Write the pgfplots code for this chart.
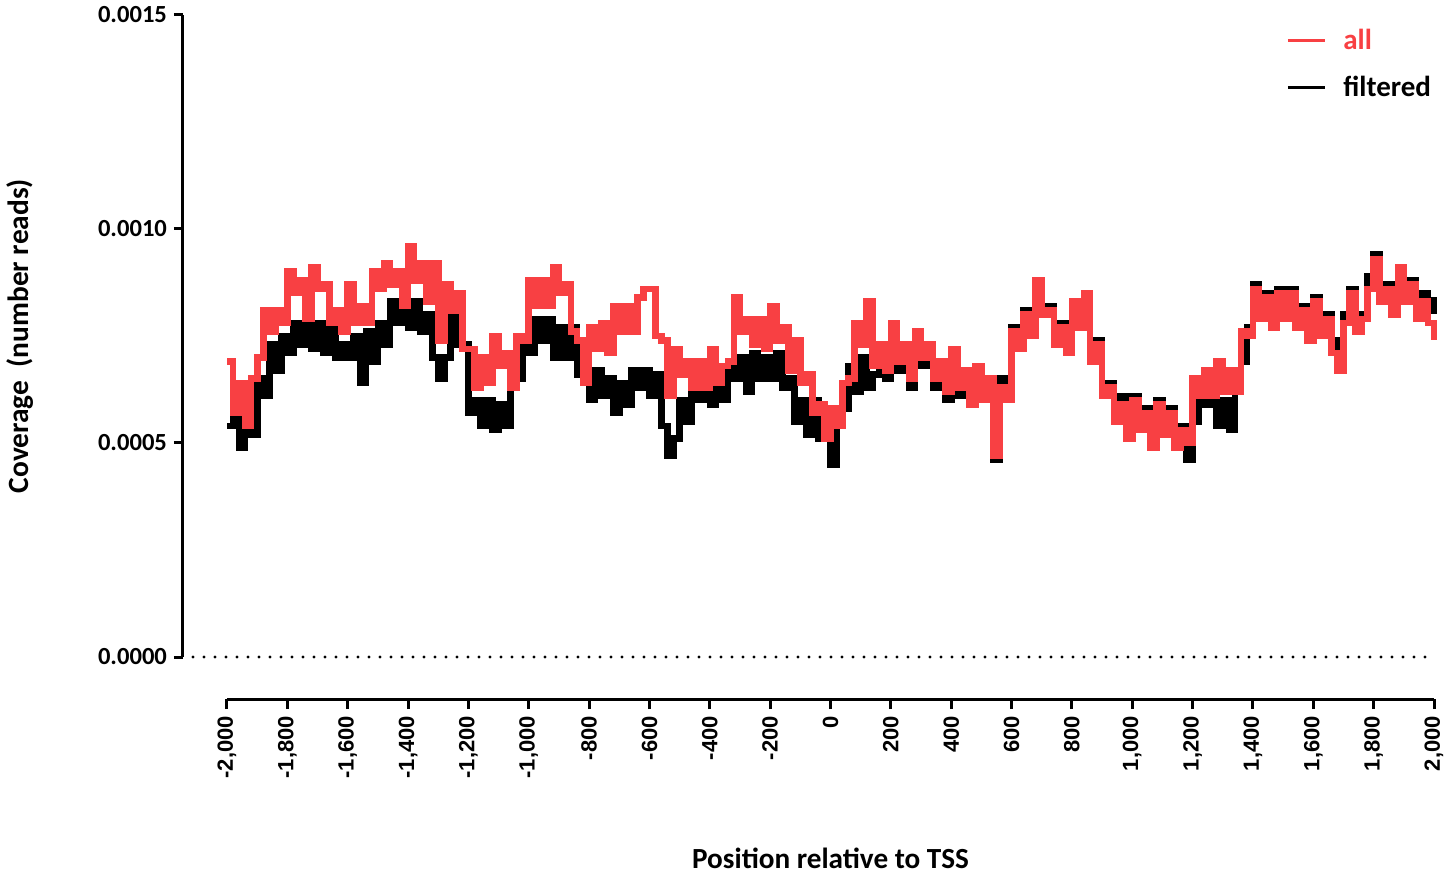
\documentclass[border=0pt]{standalone}
\usepackage{fontspec}
\setmainfont{Carlito}
\newfontfamily\arialfont{Liberation Sans}
\usepackage{pgfplots}
\usepackage{pgfplotstable}
\pgfplotsset{compat=1.18}
\definecolor{allred}{HTML}{F84043}
% x = position, r = all, b = filtered  (coverage in units of 1e-5)
\pgfplotstableread{
x r b
-2000 69 54
-1980 57 56
-1960 64 49
-1940 54 55
-1920 65 52
-1900 70 65
-1880 81 61
-1860 76 73
-1840 81 67
-1820 78 75
-1800 90 71
-1780 85 78
-1760 88 73
-1740 79 79
-1720 91 72
-1700 86 78
-1680 87 71
-1660 78 79
-1640 81 70
-1620 76 73
-1600 87 70
-1580 78 75
-1560 82 64
-1540 78 76
-1520 90 69
-1500 86 78
-1480 92 73
-1460 87 83
-1440 90 78
-1420 82 81
-1400 96 77
-1380 88 83
-1360 92 76
-1340 83 80
-1320 92 70
-1300 74 65
-1280 87 70
-1260 81 80
-1240 85 73
-1220 72 73
-1200 72 57
-1180 63 60
-1160 70 54
-1140 64 60
-1120 75 53
-1100 68 59
-1080 71 54
-1060 63 63
-1040 75 65
-1020 74 74
-1000 88 71
-980 82 79
-960 88 74
-940 82 79
-920 91 70
-900 85 77
-880 87 70
-860 76 77
-840 74 66
-820 64 65
-800 77 60
-780 72 67
-760 78 61
-740 71 65
-720 82 57
-700 76 64
-680 82 59
-660 76 67
-640 84 63
-620 86 67
-600 86 61
-580 75 66
-560 74 54
-540 61 47
-520 72 51
-500 66 60
-480 69 55
-460 63 65
-440 69 60
-420 63 65
-400 72 59
-380 64 66
-360 68 60
-340 69 69
-320 84 65
-300 76 70
-280 79 62
-260 73 71
-240 79 65
-220 72 70
-200 82 65
-180 74 71
-160 77 63
-140 67 65
-120 74 55
-100 64 60
-80 66 52
-60 57 60
-40 59 51
-20 51 53
0 58 45
20 54 56
40 64 58
60 65 68
80 78 62
100 73 70
120 83 63
140 68 66
160 73 71
180 67 65
200 78 76
220 69 67
240 73 71
260 65 63
280 76 74
300 70 68
320 73 71
340 65 63
360 69 67
380 62 60
400 72 70
420 63 61
440 67 65
460 59 62
480 68 66
500 60 63
520 65 64
540 47 46
560 63 65
580 60 63
600 76 77
620 72 74
640 80 81
660 75 78
680 88 88
700 80 82
720 81 82
740 73 76
760 77 78
780 71 74
800 83 83
820 77 80
840 85 85
860 69 72
880 73 74
900 61 64
920 63 64
940 55 58
960 59 61
980 51 54
1000 60 61
1020 53 56
1040 57 58
1060 49 52
1080 59 60
1100 52 55
1120 57 58
1140 49 52
1160 53 54
1180 50 46
1200 65 55
1220 61 64
1240 67 59
1260 61 65
1280 69 54
1300 62 60
1320 67 53
1340 62 67
1360 76 69
1380 75 77
1400 86 87
1420 79 82
1440 84 85
1460 77 80
1480 85 86
1500 79 82
1520 85 86
1540 77 80
1560 81 82
1580 74 77
1600 83 84
1620 75 78
1640 79 80
1660 71 74
1680 67 70
1700 78 80
1720 85 86
1740 76 79
1760 79 80
1780 86 89
1800 93 94
1820 83 86
1840 86 87
1860 80 83
1880 91 91
1900 83 86
1920 87 88
1940 79 82
1960 83 85
1980 78 81
2000 74 84
}\covtable
\begin{document}
\begin{tikzpicture}
\path[use as bounding box] (-91.5pt,-108pt) rectangle (634pt,328.5pt);
\begin{axis}[
  at={(0pt,0pt)}, anchor=south west,
  scale only axis, width=625.5pt, height=321pt,
  xmin=-2146, xmax=2000, ymin=0, ymax=150,
  axis y line*=left, axis x line=none,
  ytick={0,50,100,150},
  yticklabels={0.0000,0.0005,0.0010,0.0015},
  tick align=outside, major tick length=4.5pt,
  axis line style={line width=1.5pt},
  every tick/.style={line width=1.5pt, black},
  yticklabel style={font=\fontsize{12.3}{14}\selectfont\bfseries},
  ylabel={Coverage~ (number reads)},
  ylabel style={at={(axis description cs:-0.1303,0.5)}, anchor=center,
    font=\fontsize{14.7}{17}\selectfont\bfseries},
  clip=false,
  legend style={draw=none, fill=none, inner sep=0pt,
    nodes={inner sep=0pt}, column sep=8.5pt, row sep=12pt,
    at={(axis description cs:0.8817,0.979)}, anchor=north west,
    font=\fontsize{14.5}{17}\selectfont\bfseries},
  legend cell align=left,
  legend image code/.code={\draw[#1] (0pt,0pt) -- (18.5pt,0pt);},
]
\addlegendimage{allred, line width=1.5pt}
\addlegendentry{\textcolor{allred}{all}}
\addlegendimage{black, line width=1.5pt}
\addlegendentry{filtered}
\addplot[black, line width=1.6pt, line cap=round, dash pattern=on 0pt off 5.5pt, forget plot]
  coordinates {(-2113,0) (1987,0)};
\addplot[black, line width=3.3pt, const plot, forget plot] table[x=x, y=b] {\covtable};
\addplot[allred, line width=3.3pt, const plot, forget plot] table[x=x, y=r] {\covtable};
\end{axis}
\begin{axis}[
  at={(22pt,-21pt)}, anchor=south west,
  scale only axis, width=603.5pt, height=10pt,
  xmin=-2000, xmax=2000, ymin=0, ymax=1,
  axis x line*=bottom, axis y line=none,
  xtick={-2000,-1800,...,2000},
  xticklabels={{-2,000},{-1,800},{-1,600},{-1,400},{-1,200},{-1,000},{-800},{-600},{-400},{-200},{0},{200},{400},{600},{800},{1,000},{1,200},{1,400},{1,600},{1,800},{2,000}},
  xticklabel style={rotate=90, anchor=east, font=\arialfont\bfseries\fontsize{11}{13}\selectfont},
  tick align=outside, major tick length=5pt,
  axis line style={line width=1.5pt},
  every tick/.style={line width=1.5pt, black},
  xlabel={Position relative to TSS},
  xlabel style={at={(axis description cs:0.5,0)}, anchor=center, yshift=-79.5pt,
    font=\fontsize{14.6}{17}\selectfont\bfseries},
]
\end{axis}
\end{tikzpicture}
\end{document}
